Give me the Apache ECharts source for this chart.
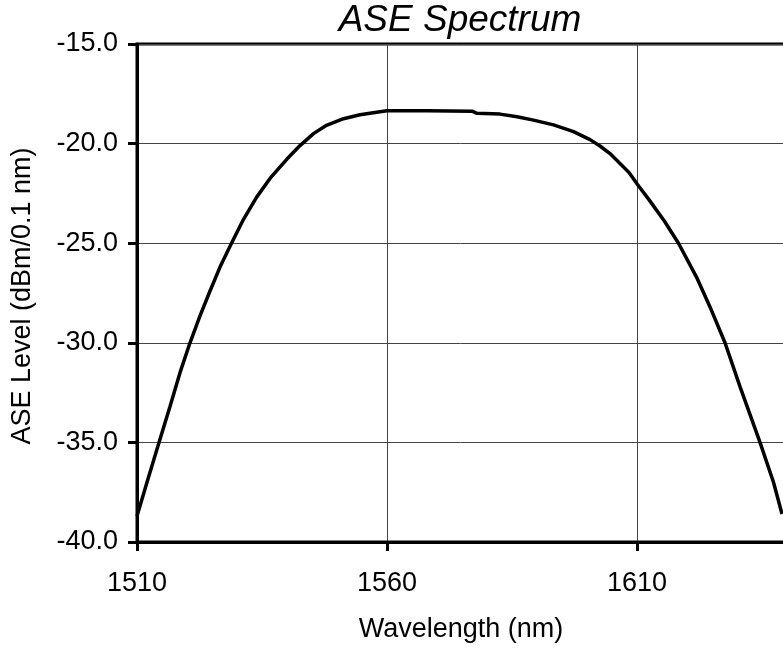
<!DOCTYPE html>
<html>
<head>
<meta charset="utf-8">
<title>ASE Spectrum</title>
<script src="https://cdn.jsdelivr.net/npm/echarts@6/dist/echarts.min.js"></script>
<style>
  html, body { margin: 0; padding: 0; background: #fff; }
  #main { width: 783px; height: 656px; }
</style>
</head>
<body>
<div id="main"></div>
<script>
// data
const wavelength = [
  1510.0, 1512.0, 1514.4, 1516.6, 1518.6, 1520.6, 1522.6, 1524.6, 1526.6, 1528.9,
  1531.3, 1533.9, 1536.6, 1539.9, 1542.6, 1545.3, 1547.9, 1551.3, 1554.6, 1558.6,
  1560.0, 1568.0, 1577.0, 1578.0, 1582.6, 1586.0, 1589.3, 1593.3, 1597.3, 1600.6,
  1602.6, 1604.6, 1606.6, 1608.4, 1610.1, 1612.5, 1615.5, 1618.3, 1621.9, 1624.6,
  1627.6, 1630.6, 1634.6, 1637.3, 1639.0
]
const level = [
  -38.7, -37.0, -35.0, -33.2, -31.5, -30.0, -28.65, -27.4, -26.2, -25.0,
  -23.8, -22.7, -21.75, -20.8, -20.1, -19.5, -19.08, -18.75, -18.55, -18.4,
  -18.35, -18.35, -18.37, -18.48, -18.52, -18.65, -18.82, -19.06, -19.4, -19.8,
  -20.12, -20.5, -21.0, -21.45, -22.05, -22.85, -23.9, -25.0, -26.7, -28.2,
  -30.0, -32.2, -35.0, -37.0, -38.6
]
const xTicks = [1510, 1560, 1610, 1660]
const yTicks = [-40, -35, -30, -25, -20, -15]

const font = 'Liberation Sans, Arial, sans-serif'
const points = wavelength.map((w, i) => [w, level[i]])

const myChart = echarts.init(document.getElementById('main'))
myChart.setOption({
  animation: false,
  backgroundColor: '#fff',
  grid: {
    left: 137,
    top: 44,
    bottom: 114,
    right: -104,   // the plot runs past the right edge of the picture
    outerBoundsMode: 'none',
    containLabel: false,
    show: true,
    borderColor: '#000',
    borderWidth: 3
  },
  xAxis: {
    type: 'value',
    min: xTicks[0],
    max: xTicks[xTicks.length - 1],
    interval: 50,
    axisLine: { show: true, lineStyle: { color: '#000', width: 3 } },
    axisTick: { show: true, inside: false, length: 9, lineStyle: { color: '#000', width: 3 } },
    axisLabel: {
      color: '#000', fontSize: 27, fontFamily: font, margin: 28,
      formatter: v => String(v)
    },
    splitLine: { show: true, lineStyle: { color: '#444', width: 1 } }
  },
  yAxis: {
    type: 'value',
    min: yTicks[0],
    max: yTicks[yTicks.length - 1],
    interval: 5,
    axisLine: { show: true, lineStyle: { color: '#000', width: 3 } },
    axisTick: { show: true, inside: false, length: 9, lineStyle: { color: '#000', width: 3 } },
    axisLabel: {
      color: '#000', fontSize: 27, fontFamily: font, margin: 19,
      formatter: v => v.toFixed(1)
    },
    splitLine: { show: true, lineStyle: { color: '#444', width: 1 } }
  },
  graphic: [
    {
      type: 'text', x: 460, y: 21,
      style: {
        text: 'ASE Spectrum', fill: '#000', fontSize: 37, fontStyle: 'italic',
        fontFamily: font, textAlign: 'center', textVerticalAlign: 'middle'
      }
    },
    {
      type: 'text', x: 461, y: 630,
      style: {
        text: 'Wavelength (nm)', fill: '#000', fontSize: 27,
        fontFamily: font, textAlign: 'center', textVerticalAlign: 'middle'
      }
    },
    {
      type: 'text', x: 23, y: 296, rotation: Math.PI / 2,
      style: {
        text: 'ASE Level (dBm/0.1 nm)', fill: '#000', fontSize: 27,
        fontFamily: font, textAlign: 'center', textVerticalAlign: 'middle'
      }
    }
  ],
  series: [{
    type: 'line',
    data: points,
    showSymbol: false,
    lineStyle: { color: '#000', width: 3.5 },
    z: 3
  }]
})
</script>
</body>
</html>
